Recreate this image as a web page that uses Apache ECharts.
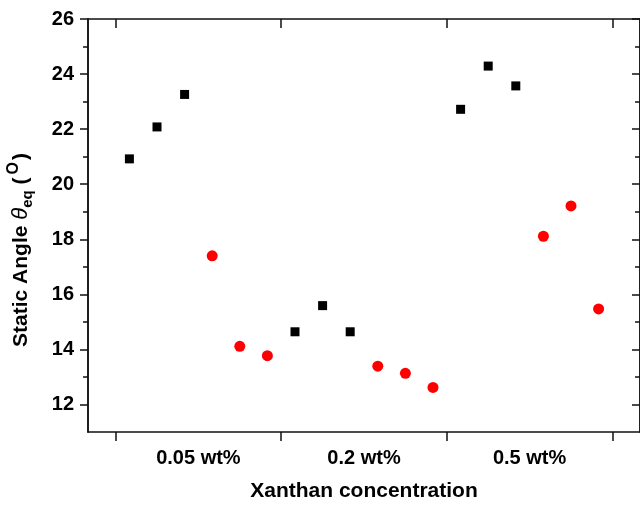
<!DOCTYPE html>
<html>
<head>
<meta charset="utf-8">
<script src="https://cdn.jsdelivr.net/npm/echarts@6/dist/echarts.min.js"></script>
<style>
  html, body { margin: 0; padding: 0; background: #fff; }
  #chart { width: 640px; height: 507px; }
</style>
</head>
<body>
<div id="chart"></div>
<script>
// ---- data ----
const groups = ['0.05 wt%', '0.2 wt%', '0.5 wt%'];
const squareValues = [
  [20.92, 22.08, 23.26],
  [14.64, 15.59, 14.64],
  [22.72, 24.29, 23.57]
];
const circleValues = [
  [17.40, 14.11, 13.77],
  [13.39, 13.13, 12.62],
  [18.11, 19.21, 15.47]
];
const yTickLabels = [12, 14, 16, 18, 20, 22, 24, 26];
const yMinorTicks = [13, 15, 17, 19, 21, 23, 25];
const xTitle = 'Xanthan concentration';

// ---- build ----
const slotsPerGroup = 6;
const groupBounds = groups.map((g, i) => i * slotsPerGroup).concat([groups.length * slotsPerGroup]);
const groupCenters = groups.map((g, i) => i * slotsPerGroup + slotsPerGroup / 2);
const squareData = [];
const circleData = [];
groups.forEach((g, gi) => {
  squareValues[gi].forEach((v, k) => squareData.push([gi * slotsPerGroup + k + 0.5, v]));
  circleValues[gi].forEach((v, k) => circleData.push([gi * slotsPerGroup + 3 + k + 0.5, v]));
});

const FONT = "'Liberation Sans', Arial, sans-serif";
const lineStyle = { color: '#111', width: 1.5 };

function xAx(pos, inside, labels) {
  return {
    type: 'value', position: pos, min: -1, max: 19,
    axisLine: { show: true, onZero: false, lineStyle },
    axisTick: { show: true, inside, length: 9, customValues: groupBounds, lineStyle },
    axisLabel: labels ? {
      show: true, customValues: groupCenters, margin: 16,
      formatter: v => groups[Math.round((v - slotsPerGroup / 2) / slotsPerGroup)],
      fontSize: 20, fontWeight: 'bold', color: '#000', fontFamily: FONT
    } : { show: false },
    splitLine: { show: false },
    name: labels ? xTitle : '',
    nameLocation: 'middle', nameGap: 49,
    nameTextStyle: { fontSize: 21, fontWeight: 'bold', color: '#000', fontFamily: FONT }
  };
}
function yAx(pos, inside, ticks, len, labels) {
  return {
    type: 'value', position: pos, min: 11, max: 26,
    axisLine: { show: true, onZero: false, lineStyle },
    axisTick: { show: true, inside, length: len, customValues: ticks, lineStyle },
    axisLabel: labels ? {
      show: true, customValues: ticks, margin: 14,
      fontSize: 20, fontWeight: 'bold', color: '#000', fontFamily: FONT
    } : { show: false },
    splitLine: { show: false }
  };
}

const chart = echarts.init(document.getElementById('chart'), null, { renderer: 'canvas' });
chart.setOption({
  animation: false,
  backgroundColor: '#fff',
  grid: { left: 88, top: 19, right: -2, bottom: 74, containLabel: false },
  xAxis: [xAx('bottom', false, true), xAx('top', true, false)],
  yAxis: [
    yAx('left', false, yTickLabels, 8, true),
    yAx('left', false, yMinorTicks, 5, false),
    yAx('right', true, yTickLabels, 8, false),
    yAx('right', true, yMinorTicks, 5, false)
  ],
  graphic: [{
    type: 'text', x: 21, y: 250, rotation: Math.PI / 2,
    style: {
      text: '{b|Static Angle }{i|θ}{sub|eq}{b| (}{sup|O}{b|)}',
      align: 'center', verticalAlign: 'middle',
      rich: {
        b: { fontSize: 21, fontWeight: 'bold', fontFamily: FONT, fill: '#000', lineHeight: 30, verticalAlign: 'middle' },
        i: { fontSize: 22, fontStyle: 'italic', fontFamily: FONT, fill: '#000', lineHeight: 30, verticalAlign: 'middle' },
        sub: { fontSize: 15, fontWeight: 'bold', fontFamily: FONT, fill: '#000', verticalAlign: 'bottom', padding: [0, 0, 1, 0] },
        sup: { fontSize: 16, fontWeight: 'bold', fontFamily: FONT, fill: '#000', verticalAlign: 'top', padding: [0, 2, 0, 3] }
      }
    }
  }],
  series: [
    { type: 'scatter', xAxisIndex: 0, yAxisIndex: 0, symbol: 'rect', symbolSize: 9,
      itemStyle: { color: '#000', opacity: 1 }, data: squareData },
    { type: 'scatter', xAxisIndex: 0, yAxisIndex: 0, symbol: 'circle', symbolSize: 11,
      itemStyle: { color: '#ff0000', opacity: 1 }, data: circleData }
  ]
});
</script>
</body>
</html>
